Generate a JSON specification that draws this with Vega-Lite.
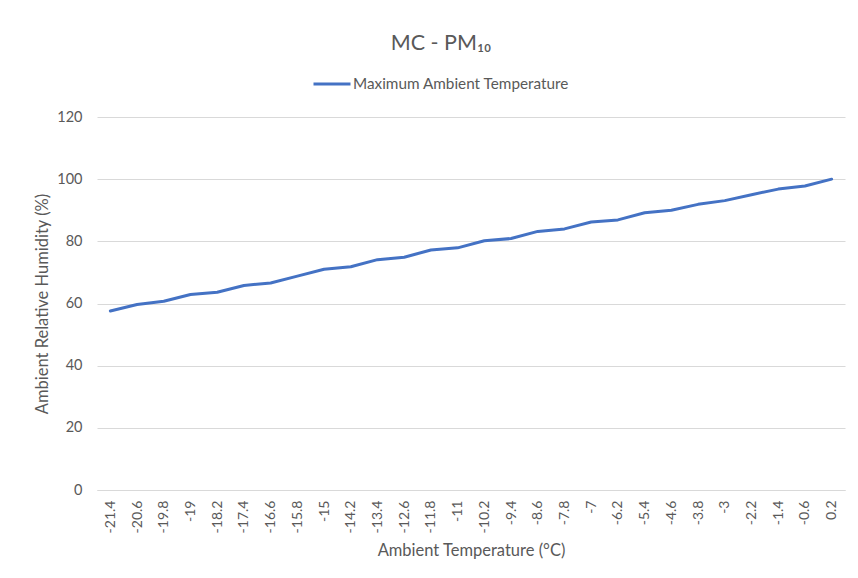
{
  "$schema": "https://vega.github.io/schema/vega-lite/v6.json",
  "width": 748,
  "height": 373,
  "autosize": "none",
  "padding": {"left": 97, "top": 117, "right": 13, "bottom": 88},
  "background": "white",
  "config": {
    "font": "Lato",
    "view": {"stroke": null}
  },
  "title": {
    "text": "MC - PM₁₀",
    "anchor": "middle",
    "frame": "group",
    "dx": -30,
    "offset": 10,
    "fontSize": 21.5,
    "fontWeight": "normal",
    "color": "#595959"
  },
  "data": {
    "values": [
      {"temp": "-21.4", "rh": 57.6, "series": "Maximum Ambient Temperature"},
      {"temp": "-20.6", "rh": 59.7, "series": "Maximum Ambient Temperature"},
      {"temp": "-19.8", "rh": 60.7, "series": "Maximum Ambient Temperature"},
      {"temp": "-19", "rh": 62.9, "series": "Maximum Ambient Temperature"},
      {"temp": "-18.2", "rh": 63.6, "series": "Maximum Ambient Temperature"},
      {"temp": "-17.4", "rh": 65.8, "series": "Maximum Ambient Temperature"},
      {"temp": "-16.6", "rh": 66.6, "series": "Maximum Ambient Temperature"},
      {"temp": "-15.8", "rh": 68.8, "series": "Maximum Ambient Temperature"},
      {"temp": "-15", "rh": 71.0, "series": "Maximum Ambient Temperature"},
      {"temp": "-14.2", "rh": 71.8, "series": "Maximum Ambient Temperature"},
      {"temp": "-13.4", "rh": 74.1, "series": "Maximum Ambient Temperature"},
      {"temp": "-12.6", "rh": 74.9, "series": "Maximum Ambient Temperature"},
      {"temp": "-11.8", "rh": 77.2, "series": "Maximum Ambient Temperature"},
      {"temp": "-11", "rh": 77.9, "series": "Maximum Ambient Temperature"},
      {"temp": "-10.2", "rh": 80.2, "series": "Maximum Ambient Temperature"},
      {"temp": "-9.4", "rh": 80.9, "series": "Maximum Ambient Temperature"},
      {"temp": "-8.6", "rh": 83.2, "series": "Maximum Ambient Temperature"},
      {"temp": "-7.8", "rh": 84.0, "series": "Maximum Ambient Temperature"},
      {"temp": "-7", "rh": 86.2, "series": "Maximum Ambient Temperature"},
      {"temp": "-6.2", "rh": 86.9, "series": "Maximum Ambient Temperature"},
      {"temp": "-5.4", "rh": 89.2, "series": "Maximum Ambient Temperature"},
      {"temp": "-4.6", "rh": 90.0, "series": "Maximum Ambient Temperature"},
      {"temp": "-3.8", "rh": 91.9, "series": "Maximum Ambient Temperature"},
      {"temp": "-3", "rh": 93.1, "series": "Maximum Ambient Temperature"},
      {"temp": "-2.2", "rh": 95.0, "series": "Maximum Ambient Temperature"},
      {"temp": "-1.4", "rh": 96.8, "series": "Maximum Ambient Temperature"},
      {"temp": "-0.6", "rh": 97.8, "series": "Maximum Ambient Temperature"},
      {"temp": "0.2", "rh": 100.0, "series": "Maximum Ambient Temperature"}
    ]
  },
  "mark": {"type": "line", "strokeWidth": 3, "strokeCap": "round", "strokeJoin": "round"},
  "encoding": {
    "x": {
      "field": "temp",
      "type": "ordinal",
      "sort": null,
      "scale": {"type": "point", "padding": 0.5},
      "axis": {
        "title": "Ambient Temperature (°C)",
        "titleFontSize": 16.5,
        "titleFontWeight": "normal",
        "titleColor": "#595959",
        "titlePadding": 10,
        "labelAngle": 270,
        "labelAlign": "right",
        "labelBaseline": "middle",
        "labelPadding": 10,
        "labelFontSize": 14,
        "labelColor": "#595959",
        "ticks": false,
        "domain": true,
        "domainColor": "#d9d9d9",
        "domainWidth": 1,
        "grid": false
      }
    },
    "y": {
      "field": "rh",
      "type": "quantitative",
      "scale": {"domain": [0, 120], "nice": false},
      "axis": {
        "values": [0, 20, 40, 60, 80, 100, 120],
        "title": "Ambient Relative Humidity (%)",
        "titleFontSize": 16.5,
        "titleFontWeight": "normal",
        "titleColor": "#595959",
        "titlePadding": 6,
        "labelFontSize": 14.5,
        "labelColor": "#595959",
        "labelPadding": 15,
        "ticks": false,
        "domain": false,
        "grid": true,
        "gridColor": "#d9d9d9",
        "gridWidth": 1
      }
    },
    "color": {
      "field": "series",
      "type": "nominal",
      "scale": {"range": ["#4472C4"]},
      "legend": {
        "title": null,
        "orient": "none",
        "legendX": 215,
        "legendY": -53,
        "symbolType": "stroke",
        "symbolSize": 1369,
        "symbolStrokeWidth": 3,
        "labelFontSize": 15.3,
        "labelLimit": 0,
        "labelColor": "#595959",
        "labelOffset": 1
      }
    }
  }
}
